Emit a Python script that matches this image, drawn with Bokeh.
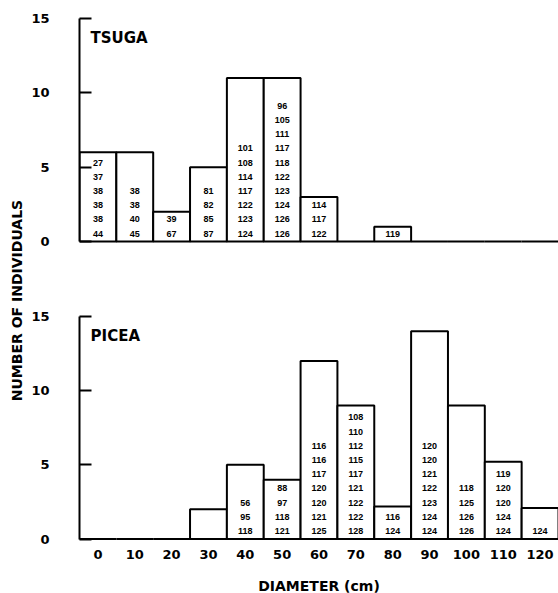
import math
from bokeh.plotting import figure
from bokeh.layouts import row, column
from bokeh.models import FixedTicker, ColumnDataSource, Label
from bokeh.embed import file_html
from bokeh.resources import INLINE
from bokeh.core.properties import value

# ---------------- data ----------------
diameters = [0, 10, 20, 30, 40, 50, 60, 70, 80, 90, 100, 110, 120]
y_ticks = [0, 5, 10, 15]

tsuga_counts = [6, 6, 2, 5, 11, 11, 3, 0, 1, 0, 0, 0, 0]
picea_counts = [0, 0, 0, 2, 5, 4, 12, 9, 2.2, 14, 9, 5.2, 2.1]

# tree numbers written inside each bar, listed bottom-up
tsuga_ids = {
    0: [44, 38, 38, 38, 37, 27],
    10: [45, 40, 38, 38],
    20: [67, 39],
    30: [87, 85, 82, 81],
    40: [124, 123, 122, 117, 114, 108, 101],
    50: [126, 126, 124, 123, 122, 118, 117, 111, 105, 96],
    60: [122, 117, 114],
    80: [119],
}
picea_ids = {
    40: [118, 95, 56],
    50: [121, 118, 97, 88],
    60: [125, 121, 120, 120, 117, 116, 116],
    70: [128, 122, 122, 121, 117, 115, 112, 110, 108],
    80: [124, 116],
    90: [124, 124, 123, 122, 121, 120, 120],
    100: [126, 126, 125, 118],
    110: [124, 124, 120, 120, 119],
    120: [124],
}

BIG = "DejaVu Sans"
SMALL = "Liberation Sans"


def bare(fig):
    fig.outline_line_color = None
    fig.xgrid.visible = False
    fig.ygrid.visible = False
    return fig


def make_panel(title, counts, ids, height, b_top, b_bottom, y_start, show_x):
    p = figure(width=530, height=height, x_range=(-5, 125), y_range=(y_start, 15.6),
               output_backend="svg", toolbar_location=None,
               min_border_left=49, min_border_right=0,
               min_border_top=b_top, min_border_bottom=b_bottom,
               x_axis_location="below" if show_x else None)
    bare(p)

    p.vbar(x=diameters, top=counts, bottom=0, width=10,
           fill_color="white", line_color="black", line_width=2)

    xs, ys, txt, yoff = [], [], [], []
    for d, lst in ids.items():
        for k, v in enumerate(lst):
            xs.append(d)
            ys.append(0)
            txt.append(str(v))
            yoff.append(-(8 + 14.2 * k))
    src = ColumnDataSource(dict(x=xs, y=ys, text=txt, yoff=yoff))
    p.text(x="x", y="y", text="text", y_offset="yoff", source=src,
           text_align="center", text_baseline="middle",
           text_font=value(SMALL), text_font_style="bold",
           text_font_size="9px", text_color="black")

    yax = p.yaxis[0]
    yax.ticker = FixedTicker(ticks=y_ticks)
    yax.bounds = (0, 15)
    yax.axis_line_width = 2
    yax.major_tick_line_width = 2
    yax.major_tick_in = 12
    yax.major_tick_out = 0
    yax.minor_tick_line_color = None
    yax.major_label_standoff = 30
    yax.major_label_text_font = BIG
    yax.major_label_text_font_style = "bold"
    yax.major_label_text_font_size = "13px"
    yax.major_label_text_color = "black"

    if show_x:
        xax = p.xaxis[0]
        xax.ticker = FixedTicker(ticks=diameters)
        xax.axis_line_color = None
        xax.major_tick_line_color = None
        xax.minor_tick_line_color = None
        xax.major_label_standoff = 0
        xax.major_label_text_font = BIG
        xax.major_label_text_font_style = "bold"
        xax.major_label_text_font_size = "13px"
        xax.major_label_text_color = "black"

    p.add_layout(Label(x=-2, y=13.7, text=title, text_baseline="middle",
                       text_font=BIG, text_font_style="bold",
                       text_font_size="15px", text_color="black"))
    return p


top = make_panel("TSUGA", tsuga_counts, tsuga_ids, 290, 9, 40, -0.6, False)
bottom = make_panel("PICEA", picea_counts, picea_ids, 283, 17, 30, -0.3, True)

# strip below the lower panel holding the x-axis title
xtitle = bare(figure(width=530, height=20, x_range=(-5, 125), y_range=(0, 1),
                     output_backend="svg", toolbar_location=None,
                     x_axis_location=None, y_axis_location=None,
                     min_border_left=49, min_border_right=0,
                     min_border_top=0, min_border_bottom=0))
xtitle.text(x=[60], y=[0.4], text=["DIAMETER (cm)"],
            text_align="center", text_baseline="middle",
            text_font=value(BIG), text_font_style="bold",
            text_font_size="14px", text_color="black")

# strip left of the panels holding the y-axis title
side = bare(figure(width=28, height=593, x_range=(0, 1), y_range=(0, 1),
                   output_backend="svg", toolbar_location=None,
                   x_axis_location=None, y_axis_location=None,
                   min_border_left=0, min_border_right=0,
                   min_border_top=0, min_border_bottom=0))
side.text(x=[0.6], y=[0.494], text=["NUMBER OF INDIVIDUALS"], angle=math.pi / 2,
          text_align="center", text_baseline="middle",
          text_font=value(BIG), text_font_style="bold",
          text_font_size="14px", text_color="black")

layout = row(side, column(top, bottom, xtitle))
open("out.html", "w").write(file_html(layout, INLINE))
